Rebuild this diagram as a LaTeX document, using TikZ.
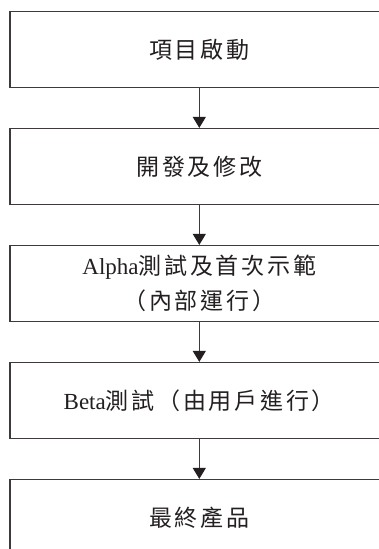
\documentclass[tikz,border=0pt]{standalone}
\usepackage{fontspec}
\setmainfont{Liberation Serif}
\newfontfamily\cjk[LetterSpace=12]{Noto Sans CJK TC}
\usetikzlibrary{
    arrows.meta,
    positioning
}
\definecolor{textBlack}{RGB}{35, 31, 32}
\definecolor{lineGray}{RGB}{62, 58, 57}
\def\picW{379}
\def\picH{549}
\newcommand{\zh}[1]{{\cjk #1}}
\tikzset{
    stage/.style={
        rectangle,
        draw=lineGray,
        line width=1.2pt,
        fill=white,
        minimum width=378.6pt,
        minimum height=76pt,
        inner sep=0pt,
        text=textBlack,
        align=center,
        font=\fontsize{23}{35}\selectfont
    },
    connector/.style={
        draw=lineGray,
        line width=1.2pt,
        -{Triangle[length=11pt, width=13pt, color=textBlack]}
    }
}

\begin{document}
\begin{tikzpicture}[x=1pt, y=1pt]
    \useasboundingbox (0,0) rectangle (\picW, -\picH);
    \node[rectangle, fill=white, minimum width=\picW pt, minimum height=\picH pt, anchor=north west] at (0,0) {};

    \begin{scope}[shift={(199.3, -49.5)}]
        % Stages
        \node[stage] (kickoff) at (0, 0) {\zh{項目啟動}};
        \node[stage] (develop) at (0, -117) {\zh{開發及修改}};
        \node[stage] (alpha) at (0, -234) {Alpha\zh{測試及首次示範}\\\zh{（內部運行）}};
        \node[stage] (beta) at (0, -351) {Beta\zh{測試（由用戶進行）}};
        \node[stage] (final) at (0, -468) {\zh{最終產品}};

        % Edges
        \draw[connector] (kickoff) -- (develop);
        \draw[connector] (develop) -- (alpha);
        \draw[connector] (alpha) -- (beta);
        \draw[connector] (beta) -- (final);
    \end{scope}
\end{tikzpicture}
\end{document}
